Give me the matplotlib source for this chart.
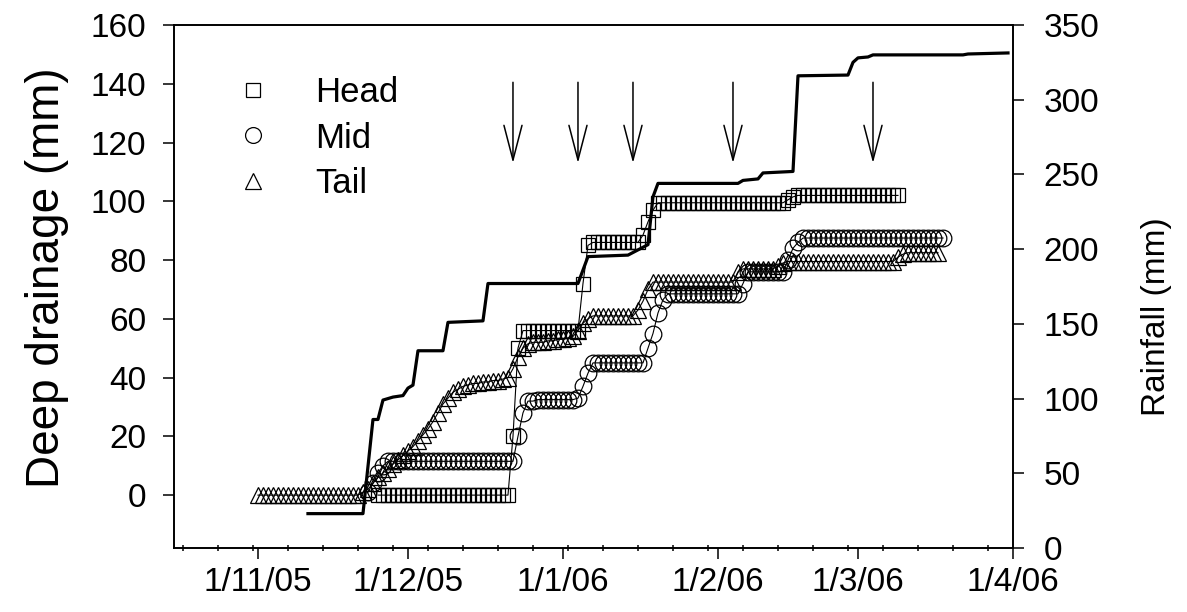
import numpy as np
import pandas as pd
import matplotlib
matplotlib.use("Agg")
import matplotlib.pyplot as plt
import matplotlib.dates as mdates
from matplotlib.lines import Line2D

plt.rcParams['font.family'] = ['Liberation Sans', 'DejaVu Sans']

# ---------------- data ----------------
# daily deep drainage series (mm), each starting on the given date
head_start = "2005-11-25"
head_mm = [0, 0, 0, 0, 0, 0, 0, 0, 0, 0, 0, 0, 0, 0, 0, 0, 0, 0, 0, 0, 0, 0, 0, 0, 0, 0, 0,
           20, 50,
           56, 56, 56, 56, 56, 56, 56, 56, 56, 56, 56, 56,
           72, 85,
           86, 86, 86, 86, 86, 86, 86, 86, 86, 86,
           88.5, 93, 97,
           99.5, 99.5, 99.5, 99.5, 99.5, 99.5, 99.5, 99.5, 99.5, 99.5, 99.5, 99.5, 99.5,
           99.5, 99.5, 99.5, 99.5, 99.5, 99.5, 99.5, 99.5, 99.5, 99.5, 99.5, 99.5, 99.5,
           100.5, 101.5,
           102, 102, 102, 102, 102, 102, 102, 102, 102, 102, 102, 102, 102, 102, 102, 102,
           102, 102, 102, 102, 102]

mid_start = "2005-11-23"
mid_mm = [1, 4, 7.5, 10,
          11.5, 11.5, 11.5, 11.5, 11.5, 11.5, 11.5, 11.5, 11.5, 11.5, 11.5, 11.5, 11.5,
          11.5, 11.5, 11.5, 11.5, 11.5, 11.5, 11.5, 11.5, 11.5, 11.5, 11.5, 11.5, 11.5,
          20, 28,
          32, 32, 32.5, 32.5, 32.5, 32.5, 32.5, 32.5, 32.5, 32.5, 33,
          37, 41.5,
          45, 45, 45, 45, 45, 45, 45, 45, 45, 45, 45,
          50, 55, 62, 66.5,
          68.5, 68.5, 68.5, 68.5, 68.5, 68.5, 68.5, 68.5, 68.5, 68.5, 68.5, 68.5, 68.5,
          68.5, 68.5,
          72,
          76, 76, 76, 76, 76, 76, 76, 76,
          80, 84, 86,
          87.5, 87.5, 87.5, 87.5, 87.5, 87.5, 87.5, 87.5, 87.5, 87.5, 87.5, 87.5, 87.5,
          87.5, 87.5, 87.5, 87.5, 87.5, 87.5, 87.5, 87.5, 87.5, 87.5, 87.5, 87.5, 87.5,
          87.5, 87.5, 87.5]

tail_start = "2005-11-01"
tail_mm = [0, 0, 0, 0, 0, 0, 0, 0, 0, 0, 0, 0, 0, 0, 0, 0, 0, 0, 0, 0, 0,
           1, 2, 4, 6, 7.5, 9, 10.5, 12, 13.5, 15, 16.5, 18.5, 20.5, 22.5, 25, 28, 31,
           33, 35, 36, 37, 37.5, 38, 38, 38.5, 38.5, 39, 39, 39.5, 40,
           43, 47, 50, 51.5, 52, 52, 52, 52.5, 52.5, 53, 53, 53.5, 54,
           56, 58.5, 60,
           61, 61, 61, 61, 61, 61, 61, 61, 61,
           63, 66, 70,
           72.5, 72.5, 72.5, 72.5, 72.5, 72.5, 72.5, 72.5, 72.5, 72.5, 72.5, 72.5, 72.5,
           72.5, 72.5, 72.5, 72.5,
           76,
           77, 77, 77, 77, 77, 77, 77,
           78, 79,
           79.5, 79.5, 79.5, 79.5, 79.5, 79.5, 79.5, 79.5, 79.5, 79.5, 79.5, 79.5, 79.5,
           79.5, 79.5, 79.5, 79.5, 79.5, 79.5, 79.5, 79.5, 79.5,
           81, 82,
           82.5, 82.5, 82.5, 82.5, 82.5, 82.5, 82.5]

# cumulative rainfall (mm)
rain_dates = ["2005-11-11", "2005-11-22", "2005-11-24", "2005-11-25", "2005-11-26",
              "2005-11-28", "2005-11-30", "2005-12-01", "2005-12-02", "2005-12-03",
              "2005-12-08", "2005-12-09", "2005-12-16", "2005-12-17", "2006-01-04",
              "2006-01-06", "2006-01-14", "2006-01-18", "2006-01-19", "2006-01-20",
              "2006-02-05", "2006-02-06", "2006-02-09", "2006-02-10", "2006-02-16",
              "2006-02-17", "2006-02-27", "2006-02-28", "2006-03-01", "2006-03-03",
              "2006-03-04", "2006-03-22", "2006-03-23", "2006-03-31"]
rain_mm = [23, 23, 86, 86, 99, 101, 102, 107, 109, 132,
           132, 151, 152, 177, 177, 195, 196, 203, 235, 244,
           244, 246, 247, 251, 252, 316, 316.5, 325, 328, 328.6,
           330, 330, 330.6, 331.3]

# irrigation arrows
arrow_dates = ["2005-12-22", "2006-01-04", "2006-01-15", "2006-02-04", "2006-03-04"]

series_names = ["Head", "Mid", "Tail"]
month_ticks = ["2005-11-01", "2005-12-01", "2006-01-01", "2006-02-01", "2006-03-01", "2006-04-01"]
month_labels = ["1/11/05", "1/12/05", "1/1/06", "1/2/06", "1/3/06", "1/4/06"]

# ---------------- figure ----------------
W, H = 1187, 612
fig = plt.figure(figsize=(W / 100, H / 100), dpi=100)
ax = fig.add_axes([174 / W, 1 - 548 / H, (1013 - 174) / W, (548 - 25) / H])

styles = {"Head": dict(marker='s', ms=10.5),
          "Mid": dict(marker='o', ms=12),
          "Tail": dict(marker='^', ms=11.5)}
data = {"Head": (head_start, head_mm), "Mid": (mid_start, mid_mm), "Tail": (tail_start, tail_mm)}

handles = []
for name in series_names:
    start, vals = data[name]
    dates = pd.date_range(start, periods=len(vals), freq='D')
    st = styles[name]
    ax.plot(dates, vals, color='black', lw=0.8, marker=st['marker'], ms=st['ms'],
            mfc='none', mec='black', mew=0.9, zorder=3)
    handles.append(Line2D([], [], ls='none', marker=st['marker'], ms=st['ms'] * 0.95,
                          mfc='none', mec='black', mew=0.9, label=name))

for d in arrow_dates:
    dt = pd.Timestamp(d)
    ax.annotate('', xy=(dt, 113), xytext=(dt, 140.5),
                arrowprops=dict(arrowstyle='->,head_length=2.5,head_width=0.65',
                                lw=1.1, color='black', shrinkA=0, shrinkB=0,
                                mutation_scale=10))

ax.set_ylim(-18, 160)
ax.set_yticks(np.arange(0, 161, 20))
ax.set_xlim(pd.Timestamp("2005-10-15 05:00"), pd.Timestamp("2006-04-01"))
ax.set_xticks(pd.to_datetime(month_ticks))
ax.set_xticklabels(month_labels)
ax.xaxis.set_minor_locator(mdates.WeekdayLocator(byweekday=mdates.MO))

ax.tick_params(axis='both', which='major', direction='out', length=8, width=1.1,
               labelsize=24, colors='black')
ax.tick_params(axis='x', which='major', pad=6)
ax.tick_params(axis='y', which='major', pad=12)
ax.tick_params(axis='x', which='minor', direction='inout', length=4, width=1.1)

ax2 = ax.twinx()
ax2.plot(pd.to_datetime(rain_dates), rain_mm, color='black', lw=2.3, zorder=4)
ax2.set_ylim(0, 350)
ax2.set_yticks(np.arange(0, 351, 50))
ax2.tick_params(axis='y', which='major', direction='out', length=8, width=1.1,
                labelsize=24, pad=14)

for a in (ax, ax2):
    for s in a.spines.values():
        s.set_linewidth(1.2)

leg = ax.legend(handles=handles, loc='upper left', frameon=False, fontsize=25,
                bbox_to_anchor=(218 / W, 1 - 76 / H), bbox_transform=fig.transFigure,
                borderpad=0, borderaxespad=0, labelspacing=0.36, handlelength=2.0,
                handletextpad=0.8)

fig.text(47 / W, 1 - 278 / H, "Deep drainage (mm)", rotation=90, ha='center', va='center',
         fontsize=33)
fig.text(1157 / W, 1 - 317 / H, "Rainfall (mm)", rotation=90, ha='center', va='center',
         fontsize=24)

fig.savefig("out.png", dpi=100)
